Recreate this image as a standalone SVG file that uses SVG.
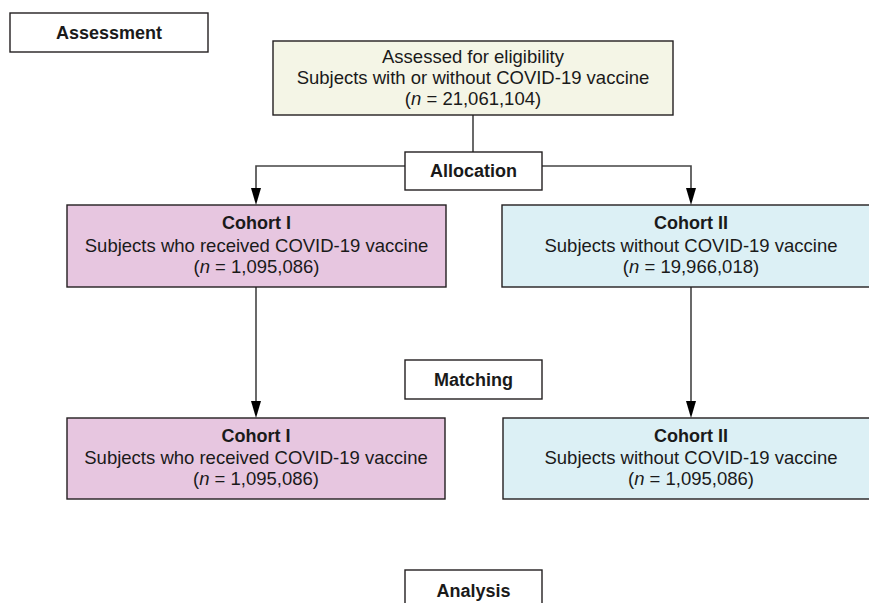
<svg xmlns="http://www.w3.org/2000/svg" width="869" height="603" viewBox="0 0 869 603">
<style>
text{font-family:"Liberation Sans",Arial,Helvetica,sans-serif;font-size:18.5px;fill:#1a1a1a;text-anchor:middle}
.b{font-weight:bold;font-size:18px}
.box{stroke:#231f20;stroke-width:1.4}
.plain{fill:#ffffff}
.top{fill:#f4f5e6}
.pink{fill:#e7c6e0}
.blue{fill:#dcf0f5}
.conn{fill:none;stroke:#444444;stroke-width:1.6}
.head{fill:#000000}
</style>
<rect width="869" height="603" fill="#ffffff"/>
<g id="connectors">
<line class="conn" x1="473" y1="115" x2="473" y2="152"/>
<path class="conn" d="M405,166 H256 V188"/>
<path class="conn" d="M542,166 H691 V188"/>
<line class="conn" x1="256" y1="287" x2="256" y2="402"/>
<line class="conn" x1="691" y1="287" x2="691" y2="402"/>
<polygon class="head" points="251,188 261,188 256,205"/>
<polygon class="head" points="686,188 696,188 691,205"/>
<polygon class="head" points="251,401 261,401 256,418"/>
<polygon class="head" points="686,401 696,401 691,418"/>
</g>
<g id="assessment">
<rect class="box plain" x="10" y="13" width="198" height="39"/>
<text class="b" x="109" y="39">Assessment</text>
</g>
<g id="eligibility">
<rect class="box top" x="273" y="41" width="400" height="74"/>
<text x="473" y="63">Assessed for eligibility</text>
<text x="473" y="84">Subjects with or without COVID-19 vaccine</text>
<text x="473" y="105">(<tspan font-style="italic">n</tspan> = 21,061,104)</text>
</g>
<g id="allocation">
<rect class="box plain" x="405" y="152" width="137" height="38"/>
<text class="b" x="473.5" y="177">Allocation</text>
</g>
<g id="cohort1">
<rect class="box pink" x="67" y="205" width="379" height="82"/>
<text class="b" x="256.5" y="229">Cohort I</text>
<text x="256.5" y="252">Subjects who received COVID-19 vaccine</text>
<text x="256.5" y="273">(<tspan font-style="italic">n</tspan> = 1,095,086)</text>
</g>
<g id="cohort2">
<rect class="box blue" x="502" y="205" width="380" height="82"/>
<text class="b" x="691" y="229">Cohort II</text>
<text x="691" y="252">Subjects without COVID-19 vaccine</text>
<text x="691" y="273">(<tspan font-style="italic">n</tspan> = 19,966,018)</text>
</g>
<g id="matching">
<rect class="box plain" x="405" y="360" width="137" height="39"/>
<text class="b" x="473.5" y="386">Matching</text>
</g>
<g id="cohort1-matched">
<rect class="box pink" x="67" y="418" width="378" height="81"/>
<text class="b" x="256" y="442">Cohort I</text>
<text x="256" y="464">Subjects who received COVID-19 vaccine</text>
<text x="256" y="485">(<tspan font-style="italic">n</tspan> = 1,095,086)</text>
</g>
<g id="cohort2-matched">
<rect class="box blue" x="503" y="418" width="380" height="81"/>
<text class="b" x="691" y="442">Cohort II</text>
<text x="691" y="464">Subjects without COVID-19 vaccine</text>
<text x="691" y="485">(<tspan font-style="italic">n</tspan> = 1,095,086)</text>
</g>
<g id="analysis">
<rect class="box plain" x="405" y="570" width="137" height="45"/>
<text class="b" x="473.5" y="597">Analysis</text>
</g>
</svg>
